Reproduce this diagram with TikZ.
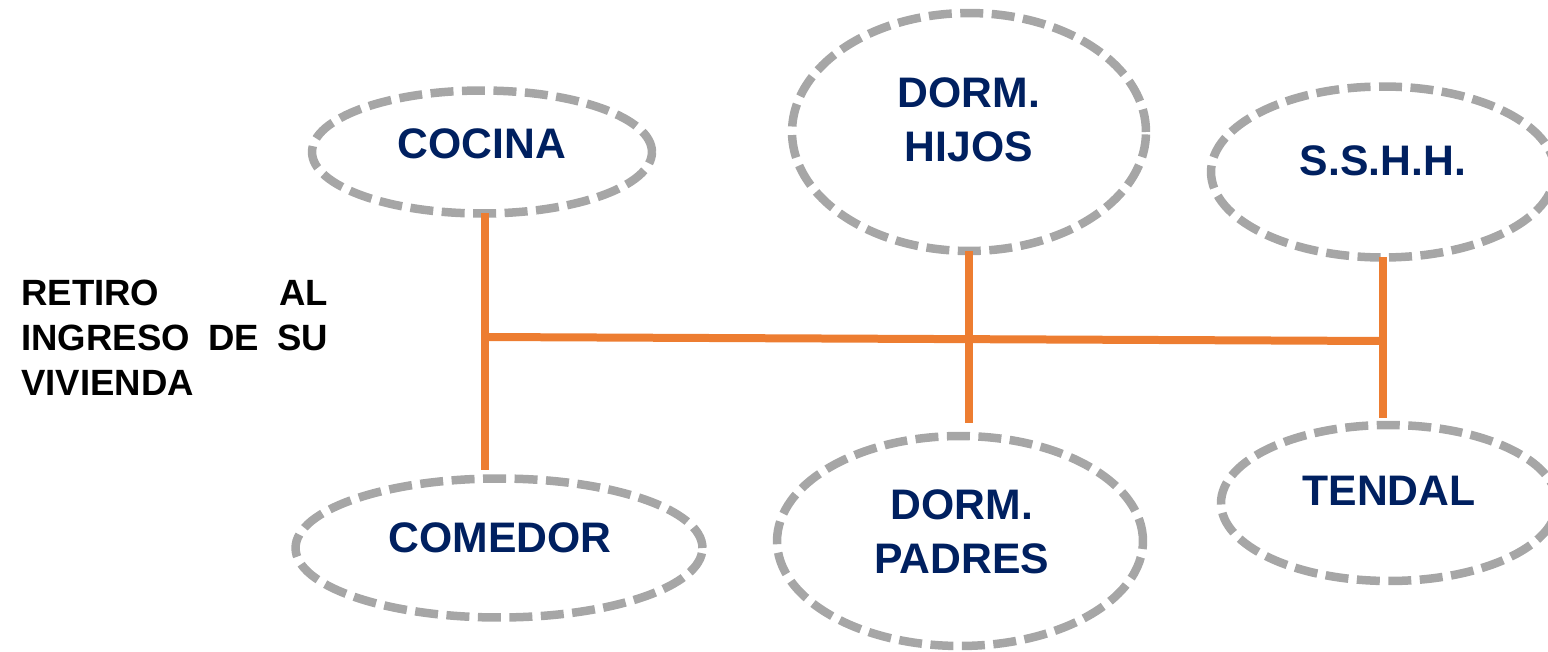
\documentclass[tikz,border=0pt]{standalone}
\usepackage{fontspec}
\setmainfont{Liberation Sans}
\usetikzlibrary{shapes.geometric}
\definecolor{azulosc}{HTML}{002060}
\definecolor{gris}{HTML}{A6A6A6}
\definecolor{naranja}{HTML}{ED7D31}
\hbadness=10000
\begin{document}
\begin{tikzpicture}[x=0.02cm, y=-0.02cm,
  ambiente/.style={ellipse, draw=gris, line width=0.17cm, dash pattern=on 0.46cm off 0.17cm, inner sep=0pt, outer sep=0pt},
  rotulo/.style={text=azulosc, font=\fontsize{24.3}{30.7}\selectfont\bfseries, align=center, inner sep=0pt},
  enlace/.style={draw=naranja, line width=0.16cm}]
\useasboundingbox (0,0) rectangle (1548,652);
\node[ambiente, minimum width=6.8cm,  minimum height=2.46cm] (cocina)  at (482,152)  {};
\node[ambiente, minimum width=7.08cm, minimum height=4.76cm] (hijos)   at (969,132)  {};
\node[ambiente, minimum width=6.88cm, minimum height=3.42cm] (sshh)    at (1383,172) {};
\node[ambiente, minimum width=8.14cm, minimum height=2.78cm] (comedor) at (499,548)  {};
\node[ambiente, minimum width=7.32cm, minimum height=4.2cm]  (padres)  at (960,541)  {};
\node[ambiente, minimum width=6.72cm, minimum height=3.12cm] (tendal)  at (1389,503) {};
\node[rotulo] (tcocina)  at (482,144)   {COCINA};
\node[rotulo] (thijos)   at (969,120)   {DORM.\\HIJOS};
\node[rotulo] (tsshh)    at (1383,161)  {S.S.H.H.};
\node[rotulo] (tcomedor) at (500,538)   {COMEDOR};
\node[rotulo] (tpadres)  at (962,532)   {DORM.\\PADRES};
\node[rotulo] (ttendal)  at (1389,491)  {TENDAL};
\node[anchor=north west, inner sep=0pt, text width=6.14cm, align=justify,
  font=\fontsize{20.8}{25.6}\selectfont\bfseries] (retiro) at (21,280)
  {RETIRO AL\linebreak INGRESO DE SU\linebreak VIVIENDA};
% ejes de circulacion
\coordinate (nizq) at (485,337);
\coordinate (nder) at (1384,341);
\draw[enlace] (nizq |- cocina.south) -- (nizq |- comedor.north) [shorten >=0.18cm];
\draw[enlace, shorten >=0.26cm] (hijos.south) -- (hijos.south |- padres.north);
\draw[enlace, shorten >=0.14cm] (sshh.south) -- (sshh.south |- tendal.north);
\draw[enlace] (nizq) -- (nder);
\end{tikzpicture}
\end{document}
